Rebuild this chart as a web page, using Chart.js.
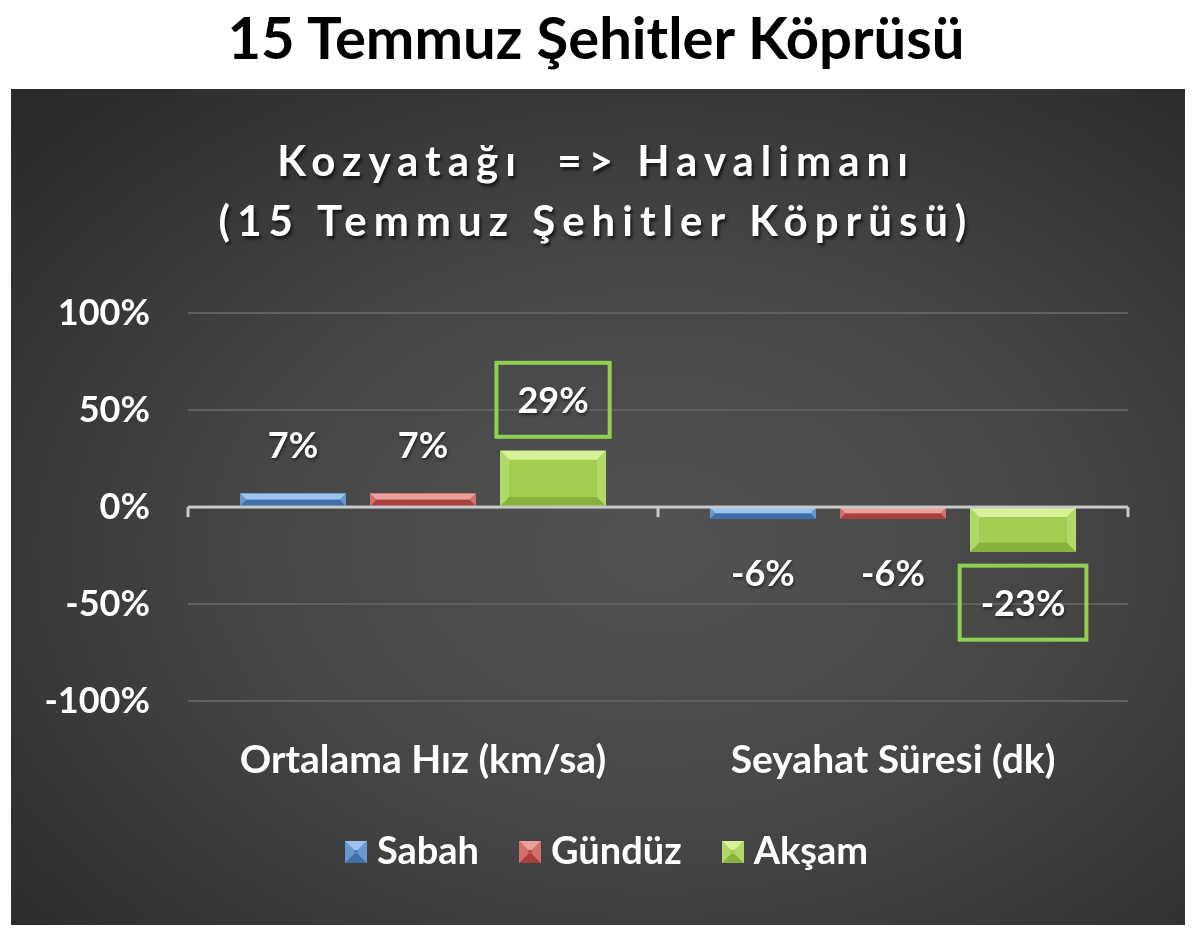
<!DOCTYPE html>
<html>
<head>
<meta charset="utf-8">
<script src="https://cdn.jsdelivr.net/npm/chart.js"></script>
<style>
    body { margin: 0; background: #fff; width: 1200px; height: 930px; position: relative; font-family: Lato, sans-serif; }
    h1 { position: absolute; top: 0; left: 0; width: 1192px; margin: 0; text-align: center; font: 700 58px Lato, sans-serif; line-height: 74px; color: #000; }
    #panel { position: absolute; left: 11px; top: 89px; width: 1174px; height: 836px;
        background: radial-gradient(ellipse 75% 75% at 55% 55%, #535353 0%, #464646 45%, #2a2a2a 100%); }
</style>
</head>
<body>
<h1>15 Temmuz Şehitler Köprüsü</h1>
<div id="panel"><canvas id="chart" width="1174" height="836"></canvas></div>
<script>
var categories = ['Ortalama Hız (km/sa)', 'Seyahat Süresi (dk)'];
var sabah = [7, -6];
var gunduz = [7, -6];
var aksam = [29, -23];
var seriesNames = ['Sabah', 'Gündüz', 'Akşam'];
var yMin = -100, yMax = 100, yStep = 50;

// base, light (top), dark (bottom), side
var palette = [
    {base: '#4f81bd', light: '#9cc2ee', dark: '#3f6fa8', side: '#6896cf'},
    {base: '#c0504d', light: '#eaa19e', dark: '#a6413e', side: '#d2706c'},
    {base: '#a2cd50', light: '#d8f097', dark: '#88b23c', side: '#b3d86a'}
];

function bevel(ctx, l, t, r, b, c) {
    var d = Math.min(9, (b - t) / 2, (r - l) / 2);
    ctx.fillStyle = c.base;
    ctx.fillRect(l, t, r - l, b - t);
    ctx.fillStyle = c.light;
    ctx.beginPath(); ctx.moveTo(l, t); ctx.lineTo(r, t); ctx.lineTo(r - d, t + d); ctx.lineTo(l + d, t + d); ctx.fill();
    ctx.fillStyle = c.dark;
    ctx.beginPath(); ctx.moveTo(l, b); ctx.lineTo(r, b); ctx.lineTo(r - d, b - d); ctx.lineTo(l + d, b - d); ctx.fill();
    ctx.fillStyle = c.side;
    ctx.beginPath(); ctx.moveTo(l, t); ctx.lineTo(l + d, t + d); ctx.lineTo(l + d, b - d); ctx.lineTo(l, b); ctx.fill();
    ctx.beginPath(); ctx.moveTo(r, t); ctx.lineTo(r - d, t + d); ctx.lineTo(r - d, b - d); ctx.lineTo(r, b); ctx.fill();
}

function legendIcon(c) {
    var cv = document.createElement('canvas');
    cv.width = 22; cv.height = 22;
    var cx = cv.getContext('2d');
    bevel(cx, 0, 0, 22, 22, c);
    return cv;
}

var barLook = {
    id: 'barLook',
    afterLayout: function (chart) {
        // title and legend are centred on the whole panel, not on the plot
        var tb = chart.titleBlock, lg = chart.legend;
        if (tb) { tb.left = 0; tb.right = 1170; tb.width = 1170; }
        if (lg) { lg.left = 0; lg.right = 1200; lg.width = 1200; }
    },
    afterDatasetsDraw: function (chart) {
        var ctx = chart.ctx;
        var yScale = chart.scales.y, xScale = chart.scales.x;
        var zero = yScale.getPixelForValue(0);
        ctx.save();
        chart.data.datasets.forEach(function (ds, i) {
            chart.getDatasetMeta(i).data.forEach(function (el) {
                var p = el.getProps(['x', 'y', 'base', 'width'], true);
                bevel(ctx, p.x - p.width / 2, Math.min(p.y, p.base), p.x + p.width / 2, Math.max(p.y, p.base), palette[i]);
            });
        });
        // zero line with small category ticks
        ctx.fillStyle = '#c9c9c9';
        ctx.fillRect(xScale.left, zero - 1.5, xScale.right - xScale.left, 3);
        var step = (xScale.right - xScale.left) / categories.length;
        for (var k = 0; k <= categories.length; k++) {
            ctx.fillRect(xScale.left + k * step - 1.5, zero, 3, 10);
        }

        // value labels
        ctx.font = 'bold 36px Lato';
        ctx.textAlign = 'center';
        ctx.textBaseline = 'middle';
        chart.data.datasets.forEach(function (ds, i) {
            chart.getDatasetMeta(i).data.forEach(function (el, j) {
                var v = ds.data[j];
                var txt = v + '%';
                var cy;
                if (i === 2) {
                    cy = v >= 0 ? el.y - 51 : el.y + 51;
                    var w = ctx.measureText(txt).width + 42;
                    ctx.strokeStyle = '#8fd051';
                    ctx.lineWidth = 4;
                    ctx.strokeRect(el.x - w / 2, cy - 37, w, 74);
                    cy += 2;
                } else {
                    cy = v >= 0 ? el.y - 47 : el.y + 56;
                }
                ctx.shadowColor = 'rgba(0,0,0,0.5)';
                ctx.shadowOffsetX = 1;
                ctx.shadowOffsetY = 2;
                ctx.shadowBlur = 3;
                ctx.fillStyle = '#fff';
                ctx.fillText(txt, el.x, cy);
                ctx.shadowColor = 'transparent';
            });
        });
        ctx.restore();
    },
    beforeDraw: function (chart) {
        // spaced out title letters like the original
        var tb = chart.titleBlock;
        if (tb && !tb._spaced) {
            var orig = tb.draw;
            tb.draw = function () {
                var c = this.ctx;
                c.save();
                c.letterSpacing = '7px';
                c.shadowColor = 'rgba(0,0,0,0.6)';
                c.shadowOffsetX = 2;
                c.shadowOffsetY = 3;
                c.shadowBlur = 3;
                orig.apply(this, arguments);
                c.restore();
            };
            tb._spaced = true;
        }
    }
};

var values = [sabah, gunduz, aksam];
var datasets = seriesNames.map(function (name, i) {
    return {
        label: name,
        data: values[i],
        backgroundColor: palette[i].base,
        borderWidth: 0,
        pointStyle: legendIcon(palette[i]),
        categoryPercentage: 0.83,
        barPercentage: 0.815
    };
});

var chart = new Chart(document.getElementById('chart'), {
    type: 'bar',
    data: {labels: categories, datasets: datasets},
    options: {
        responsive: false,
        animation: false,
        layout: {padding: {top: 14, right: 57, left: 0, bottom: 44}},
        plugins: {
            title: {
                display: true,
                text: ['Kozyatağı  => Havalimanı', '(15 Temmuz Şehitler Köprüsü)'],
                color: '#fff',
                font: {family: 'Lato', size: 42, weight: 'bold', lineHeight: 1.43},
                padding: {top: 29, bottom: 61}
            },
            legend: {
                position: 'bottom',
                labels: {
                    color: '#fff',
                    font: {family: 'Lato', size: 38, weight: 'bold'},
                    usePointStyle: true,
                    pointStyleWidth: 4,
                    boxWidth: 22,
                    boxHeight: 22,
                    padding: 49
                }
            },
            tooltip: {enabled: false}
        },
        scales: {
            x: {
                grid: {display: false},
                border: {display: false},
                ticks: {color: '#fff', font: {family: 'Lato', size: 39, weight: 'bold'}, padding: 28},
                afterFit: function (s) { s.height = 83; }
            },
            y: {
                min: yMin,
                max: yMax,
                border: {display: false},
                grid: {color: '#5f5f5f', lineWidth: 2, drawTicks: false},
                ticks: {
                    stepSize: yStep,
                    color: '#fff',
                    font: {family: 'Lato', size: 36, weight: 'bold'},
                    padding: 38,
                    callback: function (v) { return v + '%'; }
                },
                afterFit: function (s) { s.width = 177; }
            }
        }
    },
    plugins: [barLook]
});
chart.draw();
</script>
</body>
</html>
